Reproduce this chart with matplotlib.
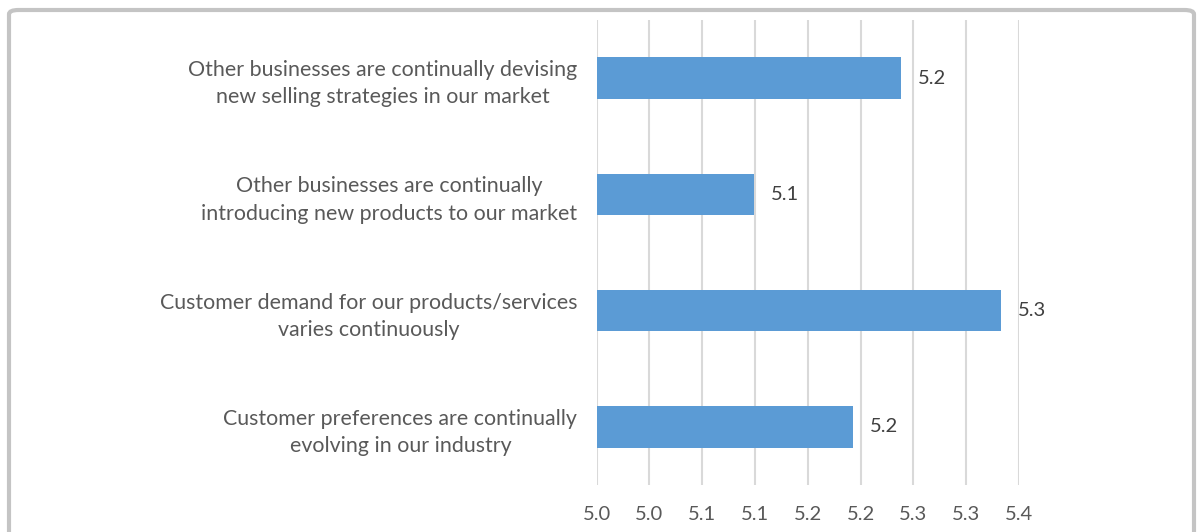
import matplotlib
matplotlib.use("Agg")
import matplotlib.pyplot as plt
from matplotlib.patches import FancyBboxPatch

categories = [
    "Other businesses are continually devising\nnew selling strategies in our market",
    "Other businesses are continually\nintroducing new products to our market",
    "Customer demand for our products/services\nvaries continuously",
    "Customer preferences are continually\nevolving in our industry",
]
values = [5.243, 5.104, 5.338, 5.198]
value_labels = ["5.2", "5.1", "5.3", "5.2"]
tick_values = [4.955, 5.005, 5.055, 5.105, 5.155, 5.205, 5.255, 5.305, 5.355]
tick_labels = ["5.0", "5.0", "5.1", "5.1", "5.2", "5.2", "5.3", "5.3", "5.4"]
x_min, x_max = 4.955, 5.355

W, H = 1198, 532
fig = plt.figure(figsize=(W / 100, H / 100), dpi=100)
plt.rcParams['font.family'] = ['Lato', 'DejaVu Sans']

# outer frame
frame = FancyBboxPatch((9 / W, -0.2), (1194 - 9) / W, (H - 10) / H + 0.2,
                       boxstyle="round,pad=0,rounding_size=0.008",
                       transform=fig.transFigure, facecolor="none",
                       edgecolor="#C4C4C4", linewidth=3, zorder=10)
fig.patches.append(frame)

left, right = 596.7, 1019.0
top, bottom = 20, 485
ax = fig.add_axes([left / W, (H - bottom) / H, (right - left) / W, (bottom - top) / H])
ax.set_facecolor("none")

ypos = list(range(len(categories)))
ax.barh(ypos, [v - x_min for v in values], left=x_min, height=0.355,
        color="#5B9BD5", zorder=3)
for y, v, lab in zip(ypos, values, value_labels):
    ax.text(v + 0.016, y, lab, va="center", ha="left", fontsize=14.5,
            color="#404040", zorder=4)

ax.set_xlim(x_min, x_max)
ax.set_ylim(len(categories) - 0.5, -0.5)
ax.set_xticks(tick_values)
ax.set_xticklabels(tick_labels)
ax.set_yticks(ypos)
ax.set_yticklabels(categories, multialignment="center", linespacing=1.45)
ax.tick_params(axis="x", length=0, pad=15, labelsize=14.5, labelcolor="#595959")
ax.tick_params(axis="y", length=0, pad=14, labelsize=15.4, labelcolor="#595959")
ax.grid(axis="x", color="#D9D9D9", linewidth=1.5, zorder=0)
for s in ax.spines.values():
    s.set_visible(False)

fig.savefig("out.png", dpi=100)
